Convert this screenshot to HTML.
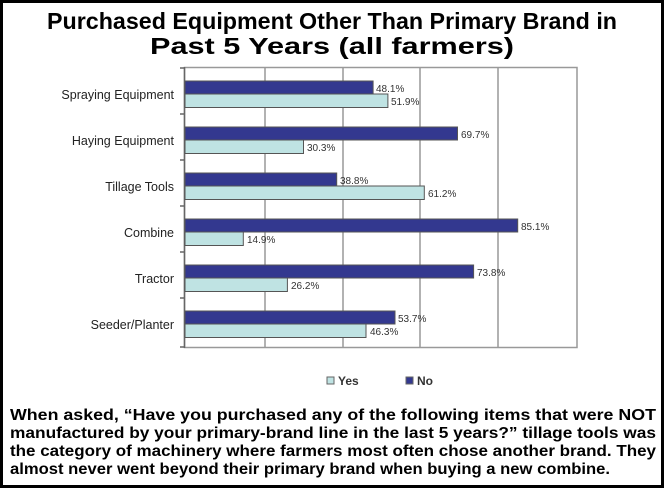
<!DOCTYPE html>
<html><head><meta charset="utf-8"><style>
html,body{margin:0;padding:0;background:#fff;}
svg{display:block;}
</style></head><body>
<svg width="667" height="490" viewBox="0 0 667 490" xmlns="http://www.w3.org/2000/svg">
<rect x="0" y="0" width="667" height="490" fill="#fff"/>
<rect x="1.5" y="1.5" width="661" height="485" fill="none" stroke="#000" stroke-width="3"/>
<g font-family="Liberation Sans, Arial, sans-serif" font-weight="bold" fill="#000" font-size="23">
<text x="332" y="29" text-anchor="middle" textLength="570" lengthAdjust="spacingAndGlyphs">Purchased Equipment Other Than Primary Brand in</text>
<text x="332" y="54" text-anchor="middle" textLength="364" lengthAdjust="spacingAndGlyphs">Past 5 Years (all farmers)</text>
</g>
<!-- plot -->
<rect x="184.5" y="67.5" width="392.5" height="280" fill="#fff" stroke="#999" stroke-width="1.5"/>
<g stroke="#999" stroke-width="1.5">
<line x1="265" y1="68" x2="265" y2="347"/>
<line x1="343" y1="68" x2="343" y2="347"/>
<line x1="420" y1="68" x2="420" y2="347"/>
<line x1="498" y1="68" x2="498" y2="347"/>
</g>
<g stroke="#666" stroke-width="1.5">
<line x1="184.5" y1="67" x2="184.5" y2="348"/>
<line x1="180" y1="68" x2="185" y2="68"/>
<line x1="180" y1="114" x2="185" y2="114"/>
<line x1="180" y1="160" x2="185" y2="160"/>
<line x1="180" y1="206" x2="185" y2="206"/>
<line x1="180" y1="252" x2="185" y2="252"/>
<line x1="180" y1="298" x2="185" y2="298"/>
<line x1="180" y1="347" x2="185" y2="347"/>
</g>
<g stroke="#555" stroke-width="1">
<rect x="185" y="81" width="188.1" height="13" fill="#33388f"/>
<rect x="185" y="94" width="202.9" height="13.5" fill="#bfe3e3"/>
<rect x="185" y="127" width="272.5" height="13" fill="#33388f"/>
<rect x="185" y="140" width="118.5" height="13.5" fill="#bfe3e3"/>
<rect x="185" y="173" width="151.7" height="13" fill="#33388f"/>
<rect x="185" y="186" width="239.3" height="13.5" fill="#bfe3e3"/>
<rect x="185" y="219" width="332.7" height="13" fill="#33388f"/>
<rect x="185" y="232" width="58.3" height="13.5" fill="#bfe3e3"/>
<rect x="185" y="265" width="288.6" height="13" fill="#33388f"/>
<rect x="185" y="278" width="102.4" height="13.5" fill="#bfe3e3"/>
<rect x="185" y="311" width="210" height="13" fill="#33388f"/>
<rect x="185" y="324" width="181" height="13.5" fill="#bfe3e3"/>
</g>
<g font-family="Liberation Sans, Arial, sans-serif" font-size="10" fill="#333">
<text x="376" y="92">48.1%</text>
<text x="391" y="105">51.9%</text>
<text x="461" y="138">69.7%</text>
<text x="307" y="151">30.3%</text>
<text x="340" y="184">38.8%</text>
<text x="428" y="197">61.2%</text>
<text x="521" y="230">85.1%</text>
<text x="247" y="243">14.9%</text>
<text x="477" y="276">73.8%</text>
<text x="291" y="289">26.2%</text>
<text x="398" y="322">53.7%</text>
<text x="370" y="335">46.3%</text>
</g>
<g font-family="Liberation Sans, Arial, sans-serif" font-size="12.5" fill="#222" text-anchor="end">
<text x="174" y="99">Spraying Equipment</text>
<text x="174" y="145">Haying Equipment</text>
<text x="174" y="191">Tillage Tools</text>
<text x="174" y="237">Combine</text>
<text x="174" y="283">Tractor</text>
<text x="174" y="329">Seeder/Planter</text>
</g>
<!-- legend -->
<rect x="327" y="377" width="7" height="7" fill="#bfe3e3" stroke="#666"/>
<text x="338" y="385" font-family="Liberation Sans, Arial, sans-serif" font-size="12" font-weight="bold" fill="#333">Yes</text>
<rect x="406" y="377" width="7" height="7" fill="#33388f" stroke="#666"/>
<text x="417" y="385" font-family="Liberation Sans, Arial, sans-serif" font-size="12" font-weight="bold" fill="#333">No</text>
<g font-family="Liberation Sans, Arial, sans-serif" font-weight="bold" font-size="15.5" fill="#000">
<text x="10" y="420" textLength="646" lengthAdjust="spacingAndGlyphs">When asked, “Have you purchased any of the following items that were NOT</text>
<text x="10" y="438" textLength="646" lengthAdjust="spacingAndGlyphs">manufactured by your primary-brand line in the last 5 years?” tillage tools was</text>
<text x="10" y="456" textLength="646" lengthAdjust="spacingAndGlyphs">the category of machinery where farmers most often chose another brand. They</text>
<text x="10" y="474" textLength="600" lengthAdjust="spacingAndGlyphs">almost never went beyond their primary brand when buying a new combine.</text>
</g>
</svg>
</body></html>
